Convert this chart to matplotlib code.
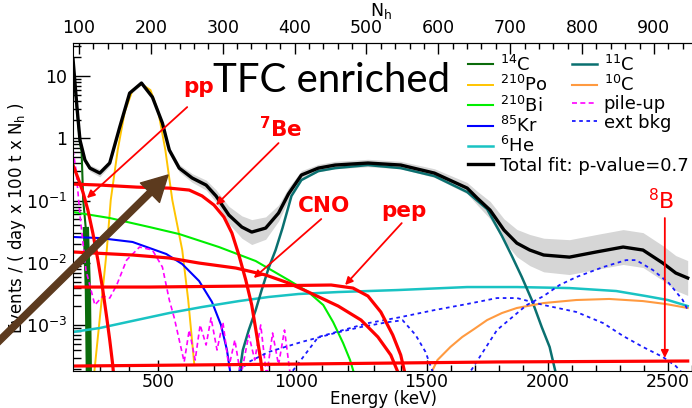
import matplotlib
import matplotlib.pyplot as plt
import numpy as np

matplotlib.use('Agg')

# energy (keV) <-> number of hit PMTs, used for the bottom axis
cal_kev = [200, 500, 1000, 1500, 2000, 2500, 2600]
cal_nh = [88.0, 210.5, 402.6, 583.6, 752.2, 919.4, 953.0]

# total fit and the spread of the data around it (half-width in decades)
nh_tot = [91.7, 97.2, 101.4, 108.3, 115.2, 129.0, 142.8, 156.6, 170.5, 187.0,
          202.2, 216.1, 225.7, 239.5, 257.5, 276.9, 290.7, 308.6, 326.6, 340.4,
          359.8, 377.7, 391.5, 409.5, 433.0, 456.5, 502.1, 547.7, 594.6, 640.2,
          654.1, 672.0, 691.4, 709.3, 727.3, 746.6, 782.5, 819.8, 857.2, 884.8,
          912.4, 930.4, 947.0]
tot = [19.0, 3.18, 0.94, 0.449, 0.333, 0.277, 0.402, 1.5, 5.33, 7.73,
       4.60, 1.76, 0.649, 0.333, 0.231, 0.178, 0.119, 0.0587, 0.0377, 0.0313,
       0.0363, 0.0632, 0.128, 0.258, 0.333, 0.373, 0.402, 0.373, 0.277, 0.159,
       0.11, 0.0706, 0.0337, 0.0208, 0.0161, 0.0134, 0.0124, 0.0150, 0.0180, 0.0161,
       0.00995, 0.00689, 0.00573]
tot_err = [0.03, 0.03, 0.03, 0.04, 0.05, 0.06, 0.05, 0.04, 0.03, 0.03,
           0.03, 0.03, 0.05, 0.06, 0.07, 0.08, 0.10, 0.14, 0.18, 0.20,
           0.18, 0.13, 0.10, 0.07, 0.06, 0.06, 0.06, 0.06, 0.07, 0.09,
           0.11, 0.14, 0.18, 0.22, 0.25, 0.27, 0.28, 0.28, 0.28, 0.28,
           0.28, 0.28, 0.28]

# solar neutrino components
nh_pp = [91.7, 98.6, 105.5, 112.4, 119.3, 126.3, 133.2, 138.7, 142.8, 147.0, 148.4]
pp = [0.373, 0.231, 0.1375, 0.0706, 0.0302, 0.01114, 3.67e-3, 1.31e-3, 5.8e-4, 2.3e-4, 1.5e-4]

nh_be7 = [91.7, 129.0, 180.1, 225.7, 253.4, 271.3, 287.9, 301.7, 312.8, 322.5,
          332.1, 340.4, 347.3, 352.9, 355.6]
be7 = [0.1845, 0.178, 0.165, 0.159, 0.148, 0.119, 0.0849, 0.0546, 0.0302, 0.0134,
       5.32e-3, 2.11e-3, 6.97e-4, 2.76e-4, 1.5e-4]

nh_cno = [91.7, 174.6, 225.7, 267.2, 318.3, 359.8, 391.5, 419.2, 460.7, 492.5,
          516.0, 533.9, 546.3]
cno = [0.0150, 0.0134, 0.0120, 0.00995, 8.28e-3, 6.40e-3, 4.76e-3, 3.41e-3, 2.03e-3, 1.21e-3,
       6.46e-4, 3.32e-4, 1.5e-4]

nh_pep = [91.7, 198.1, 336.3, 450.9, 481.3, 502.1, 520.0, 536.6, 547.7, 554.6]
pep = [4.10e-3, 4.10e-3, 4.26e-3, 4.42e-3, 3.95e-3, 2.94e-3, 1.63e-3, 6.97e-4, 3.32e-4, 1.5e-4]

nh_b8 = [91.7, 405.4, 681.7, 947.0]
b8 = [2.21e-4, 2.38e-4, 2.57e-4, 2.66e-4]

# backgrounds
nh_c14 = [91.7, 97.2, 101.4, 103.7, 105.9, 109.7, 112.4, 113.8]
c14 = [17.4, 3.0, 0.85, 0.603, 0.102, 0.0337, 3.67e-3, 1.5e-4]

nh_po = [120.7, 129.0, 138.7, 144.2, 153.9, 163.6, 174.6, 187.0, 199.5, 210.5,
         220.2, 229.9, 243.7, 252.0, 260.3]
po210 = [1.5e-4, 1.3e-3, 0.0161, 0.102, 0.649, 2.64, 5.96, 7.45, 5.96, 2.64,
         0.649, 0.102, 0.0161, 2.54e-3, 2.47e-4]

nh_bi = [91.7, 142.8, 198.1, 239.5, 294.8, 345.9, 391.5, 419.2, 439.9, 453.7,
         467.5, 477.2, 484.1]
bi210 = [0.0656, 0.0526, 0.0377, 0.0291, 0.0180, 0.01074, 5.32e-3, 3.41e-3, 2.11e-3, 1.12e-3,
         5.18e-4, 2.76e-4, 1.5e-4]

nh_kr = [91.7, 129.0, 174.6, 221.6, 243.7, 267.2, 285.1, 297.6, 305.9, 311.4]
kr85 = [0.0261, 0.0251, 0.0217, 0.0139, 9.6e-3, 5.12e-3, 2.36e-3, 1.01e-3, 4.0e-4, 1.5e-4]

nh_he = [91.7, 129.0, 180.1, 225.7, 271.3, 322.5, 363.9, 405.4, 460.7, 543.5,
         640.2, 709.3, 782.5, 847.5, 888.9, 919.3, 947.0]
he6 = [7.78e-4, 9.02e-4, 1.21e-3, 1.57e-3, 1.96e-3, 2.44e-3, 2.84e-3, 3.17e-3, 3.41e-3, 3.67e-3,
       4.10e-3, 4.10e-3, 3.95e-3, 3.54e-3, 2.94e-3, 2.54e-3, 2.03e-3]

nh_c11 = [322.5, 328.0, 336.3, 345.9, 354.2, 363.9, 373.6, 383.2, 395.7, 409.5,
          433.0, 456.5, 502.1, 547.7, 594.6, 640.2, 667.9, 688.6, 702.4, 716.2,
          730.1, 743.9, 754.9, 764.6]
c11 = [1.5e-4, 4.0e-4, 8.38e-4, 1.75e-3, 3.67e-3, 8.28e-3, 0.0161, 0.0363, 0.119, 0.214,
       0.298, 0.333, 0.373, 0.333, 0.248, 0.1375, 0.0733, 0.0270, 0.0129, 5.94e-3,
       2.54e-3, 9.35e-4, 4.47e-4, 1.5e-4]

nh_c10 = [587.7, 598.8, 616.8, 633.3, 649.9, 667.9, 688.6, 709.3, 746.6, 792.2,
          837.8, 884.8, 916.6, 947.0]
c10 = [1.5e-4, 2.76e-4, 4.47e-4, 6.47e-4, 8.69e-4, 1.21e-3, 1.57e-3, 1.89e-3, 2.27e-3, 2.54e-3,
       2.64e-3, 2.44e-3, 2.19e-3, 1.89e-3]

nh_pile = [91.7, 95.9, 101.4, 109.7, 122.1, 133.2, 142.8, 152.5, 166.3, 184.3,
           202.2, 216.1, 225.7, 232.6, 239.5, 246.4, 253.4, 261.7, 268.6, 276.9,
           283.8, 292.1, 300.3, 308.6, 316.9, 325.2, 336.3, 344.6, 352.9, 361.1,
           369.4, 377.7, 386.0, 394.3]
pileup = [0.649, 0.310, 0.0587, 7.69e-3, 2.11e-3, 2.94e-3, 2.73e-3, 4.42e-3, 0.0111, 0.0180,
          0.0161, 8.59e-3, 2.54e-3, 1.31e-3, 5.8e-4, 2.57e-4, 8.38e-4, 2.76e-4, 1.01e-3, 4.81e-4,
          1.31e-3, 4.0e-4, 1.12e-3, 2.13e-4, 5.8e-4, 1.5e-4, 6.97e-4, 2.76e-4, 1.01e-3, 1.5e-4,
          7.5e-4, 2.3e-4, 8.38e-4, 1.5e-4]

# external background, three shapes
nh_ext1 = [315.5, 336.3, 363.9, 409.5, 456.5, 492.4, 529.7, 550.4, 568.4, 582.2, 594.6]
ext1 = [1.5e-4, 2.57e-4, 3.72e-4, 5.37e-4, 7.5e-4, 9.35e-4, 1.12e-3, 1.2e-3, 6.97e-4, 3.72e-4, 1.5e-4]
nh_ext2 = [391.5, 433.0, 502.1, 547.7, 594.6, 640.2, 681.7, 709.3, 746.6, 792.2,
           829.5, 857.2, 884.8, 912.4, 930.4, 944.2]
ext2 = [1.5e-4, 6.47e-4, 1.08e-3, 1.35e-3, 1.75e-3, 2.19e-3, 2.73e-3, 2.73e-3, 2.11e-3, 1.63e-3,
        1.08e-3, 6.71e-4, 4.47e-4, 3.09e-4, 2.21e-4, 1.5e-4]
nh_ext3 = [640.2, 681.7, 723.1, 746.6, 768.7, 792.2, 829.5, 861.3, 875.1, 898.6,
           920.7, 940.1, 947.0]
ext3 = [1.5e-4, 8.38e-4, 2.11e-3, 2.94e-3, 4.42e-3, 5.94e-3, 8.59e-3, 0.0111, 0.0111, 7.69e-3,
        4.76e-3, 2.54e-3, 1.75e-3]

e_major = [500, 1000, 1500, 2000, 2500]
nh_major = [100, 200, 300, 400, 500, 600, 700, 800, 900]


def e_to_nh(e):
    return np.interp(e, cal_kev, cal_nh)


fig = plt.figure(figsize=(6.92, 4.08), dpi=100)
ax = fig.add_axes([73 / 692, 37 / 408, 619 / 692, 328 / 408])

tot_a = np.array(tot)
err_a = np.array(tot_err)
ax.fill_between(nh_tot, tot_a * 10 ** -err_a, tot_a * 10 ** err_a,
                color='0.5', alpha=0.32, lw=0)

ax.plot(nh_c14, c14, color='#0b6b0b', lw=1.5, label=r'$^{14}$C')
ax.plot(nh_c14[5:], c14[5:], color='#0b6b0b', lw=4.5)
ax.plot(nh_po, po210, color='#ffc400', lw=1.4, label=r'$^{210}$Po')
ax.plot(nh_bi, bi210, color='#00ee00', lw=1.5, label=r'$^{210}$Bi')
ax.plot(nh_kr, kr85, color='#0000ff', lw=1.5, label=r'$^{85}$Kr')
ax.plot(nh_he, he6, color='#19c3c3', lw=1.8, label=r'$^{6}$He')
ax.plot(nh_c11, c11, color='#0a7070', lw=1.8, label=r'$^{11}$C')
ax.plot(nh_c10, c10, color='#ff9a40', lw=1.5, label=r'$^{10}$C')
ax.plot(nh_pile, pileup, color='#ff00ff', lw=1.2, ls=(0, (3, 2)), label='pile-up')
ax.plot(nh_ext1, ext1, color='#1a1aff', lw=1.3, ls=(0, (2, 2)), label='ext bkg')
ax.plot(nh_ext2, ext2, color='#1a1aff', lw=1.3, ls=(0, (2, 2)))
ax.plot(nh_ext3, ext3, color='#1a1aff', lw=1.3, ls=(0, (2, 2)))

for nh, y in [(nh_pp, pp), (nh_be7, be7), (nh_cno, cno), (nh_pep, pep), (nh_b8, b8)]:
    ax.plot(nh, y, color='#ff0000', lw=2.3)

ax.plot(nh_tot, tot, color='black', lw=2.4, label='Total fit: p-value=0.7')

ax.set_yscale('log')
ax.set_xlim(91.7, 947)
ax.set_ylim(1.84e-4, 34)

# bottom axis: energy
ax.set_xticks(e_to_nh(e_major))
ax.set_xticklabels([str(e) for e in e_major])
ax.set_xticks(e_to_nh([e for e in range(300, 2601, 100) if e not in e_major]), minor=True)
ax.tick_params(axis='x', which='major', direction='in', length=8, width=1, labelsize=12.5, pad=1.5)
ax.tick_params(axis='x', which='minor', direction='in', length=4, width=1)
ax.text(0.502, -0.086, 'Energy (keV)', transform=ax.transAxes, ha='center', va='center', fontsize=12)

# top axis: Nh
top = ax.secondary_xaxis('top')
top.set_xticks(nh_major)
top.set_xticks(range(100, 941, 20), minor=True)
top.tick_params(axis='x', which='major', direction='in', length=8, width=1, labelsize=12.5, pad=4)
top.tick_params(axis='x', which='minor', direction='in', length=4, width=1)
ax.text(0.497, 1.097, r'N$_{\mathregular{h}}$', transform=ax.transAxes, ha='center', va='center', fontsize=12.5)

ax.set_yticks([1e-3, 1e-2, 1e-1, 1, 10])
ax.set_yticklabels([r'$10^{-3}$', r'$10^{-2}$', r'$10^{-1}$', '1', '10'])
ax.yaxis.set_minor_formatter(matplotlib.ticker.NullFormatter())
ax.tick_params(axis='y', which='major', direction='in', length=12, width=1, labelsize=12.5, pad=4)
ax.tick_params(axis='y', which='minor', direction='in', length=6, width=1)
ax.set_ylabel(r'Events / ( day x 100 t x N$_{\mathregular{h}}$ )', fontsize=12)
ax.yaxis.set_label_coords(-0.072, 0.466)
ax.spines['right'].set_visible(False)

# legends
handles = {h.get_label(): h for h in ax.get_lines()}
col1 = [r'$^{14}$C', r'$^{210}$Po', r'$^{210}$Bi', r'$^{85}$Kr', r'$^{6}$He', 'Total fit: p-value=0.7']
col2 = [r'$^{11}$C', r'$^{10}$C', 'pile-up', 'ext bkg']
leg_kw = dict(loc='upper left', frameon=False, fontsize=13, handlelength=1.4,
              handletextpad=0.35, labelspacing=0.02, borderpad=0, borderaxespad=0)
leg1 = ax.legend(handles=[handles[k] for k in col1], bbox_to_anchor=(0.638, 0.965), **leg_kw)
ax.add_artist(leg1)
ax.legend(handles=[handles[k] for k in col2], bbox_to_anchor=(0.806, 0.965), **leg_kw)

ax.text(451, 8.6, 'TFC enriched', fontsize=29, family='Lato', ha='center', va='center')

# neutrino labels with arrows
red_arrow = dict(arrowstyle='-|>', color='red', lw=1.3, mutation_scale=11, shrinkA=0, shrinkB=0)
ax.text(267, 6.66, 'pp', color='red', fontsize=15.5, fontweight='bold', ha='center', va='center')
ax.annotate('', xy=(111.1, 0.110), xytext=(250.6, 3.18), arrowprops=red_arrow)
ax.text(380, 1.46, r'$^{\mathbf{7}}$Be', color='red', fontsize=15.5, fontweight='bold', ha='center', va='center')
ax.annotate('', xy=(290.7, 0.0849), xytext=(377.7, 0.841), arrowprops=red_arrow)
ax.text(441, 0.0818, 'CNO', color='red', fontsize=15.5, fontweight='bold', ha='center', va='center')
ax.annotate('', xy=(343.2, 5.73e-3), xytext=(437.1, 0.0507), arrowprops=red_arrow)
ax.text(552, 0.068, 'pep', color='red', fontsize=15.5, fontweight='bold', ha='center', va='center')
ax.annotate('', xy=(470.3, 4.42e-3), xytext=(549.1, 0.0436), arrowprops=red_arrow)
ax.text(910, 0.102, r'$^{8}$B', color='red', fontsize=16, ha='center', va='center')
ax.annotate('', xy=(915.2, 2.98e-4), xytext=(915.2, 0.0526), arrowprops=red_arrow)

# big arrow pointing at the low-energy region
ax.annotate('', xy=(168, 233), xycoords='figure pixels', xytext=(-6, 62), textcoords='figure pixels',
            arrowprops=dict(arrowstyle='simple,head_length=1.3,head_width=1.4,tail_width=0.32',
                            color='#5c3a1e', mutation_scale=14, shrinkA=0, shrinkB=0),
            annotation_clip=False)

fig.savefig('out.png', dpi=100)
